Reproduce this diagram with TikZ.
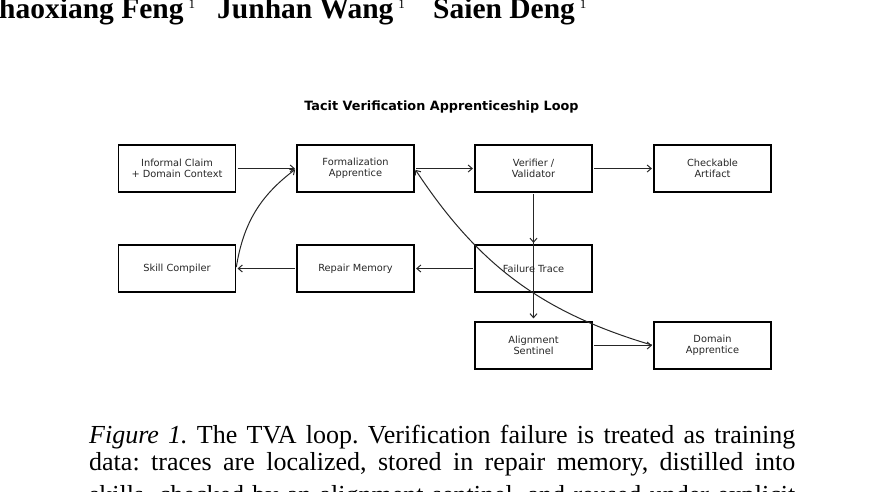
\documentclass[tikz,border=0pt]{standalone}
\usepackage{fontspec}
\setmainfont{Liberation Serif}
\newfontfamily\djv{DejaVu Sans}
\usetikzlibrary{arrows.meta}
\frenchspacing
\tikzset{
  box/.style={draw=black, line width=1.2pt, minimum width=117pt, minimum height=47pt,
    inner sep=0pt, align=center, text=black!85, font=\djv\fontsize{9.8}{11.5}\selectfont},
  conn/.style={draw=black!85, line width=1pt, -{Straight Barb[length=4pt,width=7pt]},
    shorten >=1.5pt, shorten <=1.5pt},
  hdr/.style={anchor=base west, inner sep=0pt, font=\fontsize{29.5}{30}\selectfont\bfseries},
  captext/.style={anchor=base west, inner sep=0pt, font=\fontsize{26}{28}\selectfont}
}
\newcommand{\supone}{\raisebox{10pt}{\mdseries\fontsize{13}{13}\selectfont 1}}
\begin{document}
\begin{tikzpicture}[x=1pt,y=-1pt]
\useasboundingbox (0,0) rectangle (883,491);
% header
\node[hdr] (h1) at (-1,18) {haoxiang Feng\,\supone};
\node[hdr] (h2) at (217,18) {Junhan Wang\,\supone};
\node[hdr] (h3) at (433,18) {Saien Deng\,\supone};
% title
\node[anchor=base, inner sep=0pt, font=\djv\bfseries\fontsize{12.8}{14}\selectfont] (title) at (441.5,110.7) {Tacit Verification Apprenticeship Loop};
% boxes
\node[box] (inf) at (177,168.5) {Informal Claim\\+ Domain Context};
\node[box] (form) at (355.5,168.5) {Formalization\\Apprentice};
\node[box] (ver) at (533.5,168.5) {Verifier /\\Validator};
\node[box] (chk) at (712.5,168.5) {Checkable\\Artifact};
\node[box] (skill) at (177,268.5) {Skill Compiler};
\node[box] (rep) at (355.5,268.5) {Repair Memory};
\node[box] (fail) at (533.5,268.5) {Failure Trace};
\node[box] (align) at (533.5,345.5) {Alignment\\Sentinel};
\node[box] (dom) at (712.5,345.5) {Domain\\Apprentice};
% connectors
\draw[conn] (inf) -- (form);
\draw[conn] (form) -- (ver);
\draw[conn] (ver) -- (chk);
\draw[conn] (ver) -- (fail);
\draw[conn, shorten >=3pt] (ver.south) -- (align.north);
\draw[conn] (fail) -- (rep);
\draw[conn] (rep) -- (skill);
\draw[conn] (skill.east) to[bend left=22] (form.west);
\draw[conn] (align) -- (dom);
\draw[conn] (dom.west) to[bend left=20] (form.east);
% caption
\node[captext] (c1) at (89,443) {\makebox[706pt][s]{\textit{Figure 1.} The TVA loop. Verification failure is treated as training}};
\node[captext] (c2) at (89,470) {\makebox[706pt][s]{data: traces are localized, stored in repair memory, distilled into}};
\node[captext] (c3) at (89,503) {\makebox[706pt][s]{skills, checked by an alignment sentinel, and reused under explicit}};
\end{tikzpicture}
\end{document}
